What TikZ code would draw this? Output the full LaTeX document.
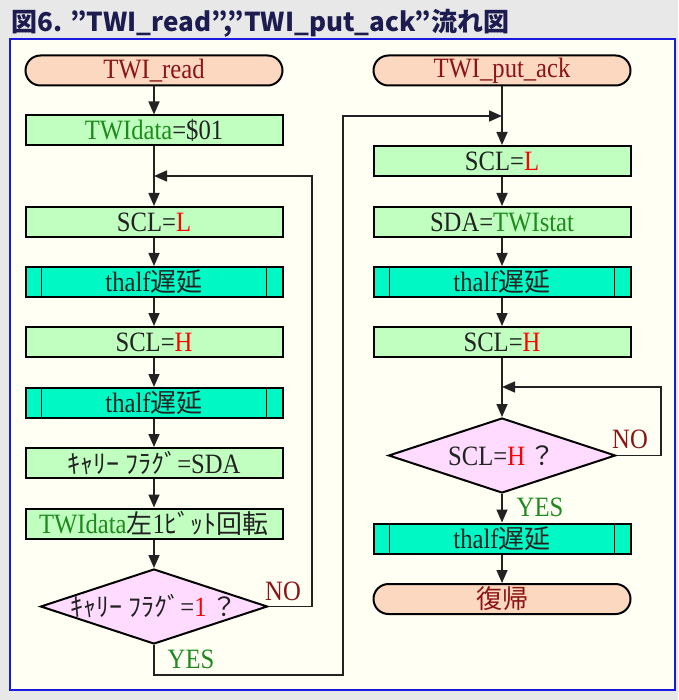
\documentclass[tikz,border=0pt]{standalone}
\usepackage{fontspec}
\setmainfont{Liberation Serif}[FakeStretch=0.88]
\newfontfamily\jpfont{Noto Sans CJK JP}
\newcommand{\jp}[1]{{\jpfont\fontsize{26}{28}\selectfont #1}}
\usetikzlibrary{arrows.meta,shapes.geometric,calc}

\definecolor{pagebg}{HTML}{E8E8E8}
\definecolor{panelbg}{HTML}{FFFFF4}
\definecolor{panelline}{HTML}{1A1AE0}
\definecolor{termfill}{HTML}{FDD8C0}
\definecolor{procfill}{HTML}{C0FFC0}
\definecolor{subfill}{HTML}{00F8C4}
\definecolor{decfill}{HTML}{FFDCFF}
\definecolor{termtext}{HTML}{8B1414}
\definecolor{vargreen}{HTML}{1E8A1E}
\definecolor{inktext}{HTML}{222222}
\definecolor{titleink}{HTML}{1C1C50}

\tikzset{
  basebox/.style={draw=black, line width=2pt, text=inktext,
    font=\fontsize{28}{30}\selectfont, inner sep=0pt, minimum width=257pt},
  termbox/.style={basebox, fill=termfill, rounded corners=15pt,
    minimum height=30pt, text=termtext},
  procbox/.style={basebox, rectangle, fill=procfill, minimum height=30pt},
  subbox/.style={procbox, fill=subfill,
    path picture={\draw[line width=1.2pt]
      ([xshift=16pt]path picture bounding box.north west) --
      ([xshift=16pt]path picture bounding box.south west)
      ([xshift=-16pt]path picture bounding box.north east) --
      ([xshift=-16pt]path picture bounding box.south east);}},
  decbox/.style={basebox, diamond, aspect=3, fill=decfill,
    minimum width=227pt, minimum height=75pt},
  conn/.style={line width=1.6pt, draw=inktext},
  arr/.style={conn, -{Triangle[length=13pt,width=11pt]}},
  lbl/.style={font=\fontsize{28}{30}\selectfont, inner sep=0pt},
}
% the question inside a decision is kept from widening the diamond
\newcommand{\ask}[1]{\makebox[0pt]{#1}}

\begin{document}
\begin{tikzpicture}[x=1pt,y=-1pt]
  % page and panel
  \fill[pagebg] (0,0) rectangle (678,700);
  \useasboundingbox (0,0) rectangle (678,700);
  \draw[panelline, line width=2pt, fill=panelbg] (10,39) rectangle (675,690);

  % heading
  \node[anchor=base west, inner sep=0pt, text=titleink,
        font=\jpfont\bfseries\fontsize{26}{28}\selectfont] (title) at (11,32)
        {図6. ”TWI\_read”,”TWI\_put\_ack”流れ図};

  % TWI_read column
  \node[termbox] (t1) at (154,70.5) {TWI\_read};
  \node[procbox] (l1) at (154,130.5) {\textcolor{vargreen}{TWIdata}=\$01};
  \node[procbox] (l2) at (154,222) {SCL=\textcolor{red}{L}};
  \node[subbox]  (l3) at (154,282) {thalf\jp{遅延}};
  \node[procbox] (l4) at (154,342) {SCL=\textcolor{red}{H}};
  \node[subbox]  (l5) at (154,403) {thalf\jp{遅延}};
  \node[procbox] (l6) at (154,463) {\jp{ｷｬﾘｰ ﾌﾗｸﾞ}=SDA};
  \node[procbox] (l7) at (154,523.5) {\textcolor{vargreen}{TWIdata}\jp{左}1\jp{ﾋﾞｯﾄ回転}};
  \node[decbox]  (d1) at (154,606.5) {\ask{\jp{ｷｬﾘｰ ﾌﾗｸﾞ}=\textcolor{red}{1}\,\jp{？}}};

  % TWI_put_ack column
  \node[termbox] (t2) at (502,70.5) {TWI\_put\_ack};
  \node[procbox] (r1) at (502,161) {SCL=\textcolor{red}{L}};
  \node[procbox] (r2) at (502,222) {SDA=\textcolor{vargreen}{TWIstat}};
  \node[subbox]  (r3) at (502,282) {thalf\jp{遅延}};
  \node[procbox] (r4) at (502,342) {SCL=\textcolor{red}{H}};
  \node[decbox]  (d2) at (502,455.5) {\ask{SCL=\textcolor{red}{H}\,\jp{？}}};
  \node[subbox]  (r5) at (502,538.5) {thalf\jp{遅延}};
  \node[termbox] (t3) at (502,599) {\jp{復帰}};

  % junctions and corners of the loops
  \coordinate (j1) at (154,176);
  \coordinate (nl) at (312,176);
  \coordinate (yl) at (343,675);
  \coordinate (j2) at (502,116);
  \coordinate (j3) at (502,387);
  \coordinate (nr) at (661,387);

  % straight flow
  \draw[arr] (t1.south) -- (l1.north);
  \draw[arr] (l1.south) -- (l2.north);
  \draw[arr] (l2.south) -- (l3.north);
  \draw[arr] (l3.south) -- (l4.north);
  \draw[arr] (l4.south) -- (l5.north);
  \draw[arr] (l5.south) -- (l6.north);
  \draw[arr] (l6.south) -- (l7.north);
  \draw[arr] (l7.south) -- (d1.north);

  \draw[arr] (t2.south) -- (r1.north);
  \draw[arr] (r1.south) -- (r2.north);
  \draw[arr] (r2.south) -- (r3.north);
  \draw[arr] (r3.south) -- (r4.north);
  \draw[arr] (r4.south) -- (d2.north);
  \draw[arr] (d2.south) -- (r5.north);
  \draw[arr] (r5.south) -- (t3.north);

  % loops
  \draw[arr] (d1.east) -| (nl) -- (j1);
  \draw[arr] (d1.south) |- (yl) |- (j2);
  \draw[arr] (d2.east) -| (nr) -- (j3);

  % branch labels
  \node[lbl, text=termtext] (no1) at (283,591) {NO};
  \node[lbl, text=vargreen] (yes1) at (191,659) {YES};
  \node[lbl, text=termtext] (no2) at (630,439) {NO};
  \node[lbl, text=vargreen] (yes2) at (540,507) {YES};
\end{tikzpicture}
\end{document}
